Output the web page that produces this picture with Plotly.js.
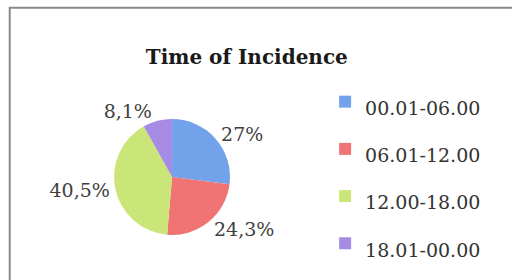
<!DOCTYPE html>
<html>
<head>
<meta charset="utf-8">
<script src="https://cdn.plot.ly/plotly-3.0.1.min.js"></script>
<style>html,body{margin:0;padding:0;background:#fff;}#chart{width:512px;height:280px;}</style>
</head>
<body>
<div id="chart"></div>
<script>
const chartTitle = 'Time of Incidence';
const categories = ['00.01-06.00', '06.01-12.00', '12.00-18.00', '18.01-00.00'];
const percentValues = [27, 24.3, 40.5, 8.1];
const sliceColors = ['#72a2ea', '#f07474', '#cbe678', '#a68be4'];

const labelText = percentValues.map(v => String(v).replace('.', ',') + '%');
// legend line height is driven by legend.font.size; the visible text is set smaller via a span
const legendLabels = categories.map(c => '<span style="font-size:19px">' + c + '</span>');

const pieTrace = {
  type: 'pie',
  labels: legendLabels,
  values: percentValues,
  text: labelText,
  textinfo: 'text',
  textposition: 'outside',
  sort: false,
  direction: 'clockwise',
  rotation: 0,
  marker: {colors: sliceColors, line: {color: '#ffffff', width: 0}},
  textfont: {family: 'DejaVu Serif', size: 19, color: '#404040'},
  outsidetextfont: {family: 'DejaVu Serif', size: 19, color: '#404040'},
  domain: {x: [0.219, 0.453], y: [0.161, 0.575]},
  hoverinfo: 'none'
};

const layout = {
  width: 512,
  height: 280,
  margin: {l: 0, r: 0, t: 0, b: 0},
  paper_bgcolor: '#ffffff',
  showlegend: true,
  title: {
    text: '<b>' + chartTitle + '</b>',
    font: {family: 'DejaVu Serif', size: 20, color: '#1a1a1a'},
    x: 0.482, xanchor: 'center',
    y: 0.795, yanchor: 'middle'
  },
  legend: {
    x: 0.635, xanchor: 'left',
    y: 0.739, yanchor: 'top',
    font: {family: 'DejaVu Serif', size: 34, color: '#333333'},
    itemwidth: 30,
    bgcolor: 'rgba(0,0,0,0)'
  },
  shapes: [{
    type: 'rect', xref: 'paper', yref: 'paper',
    x0: 0.019, x1: 1.02, y0: -0.02, y1: 0.972,
    line: {color: '#8a8a8a', width: 2}
  }]
};

Plotly.newPlot('chart', [pieTrace], layout, {displayModeBar: false, staticPlot: true});
</script>
</body>
</html>
